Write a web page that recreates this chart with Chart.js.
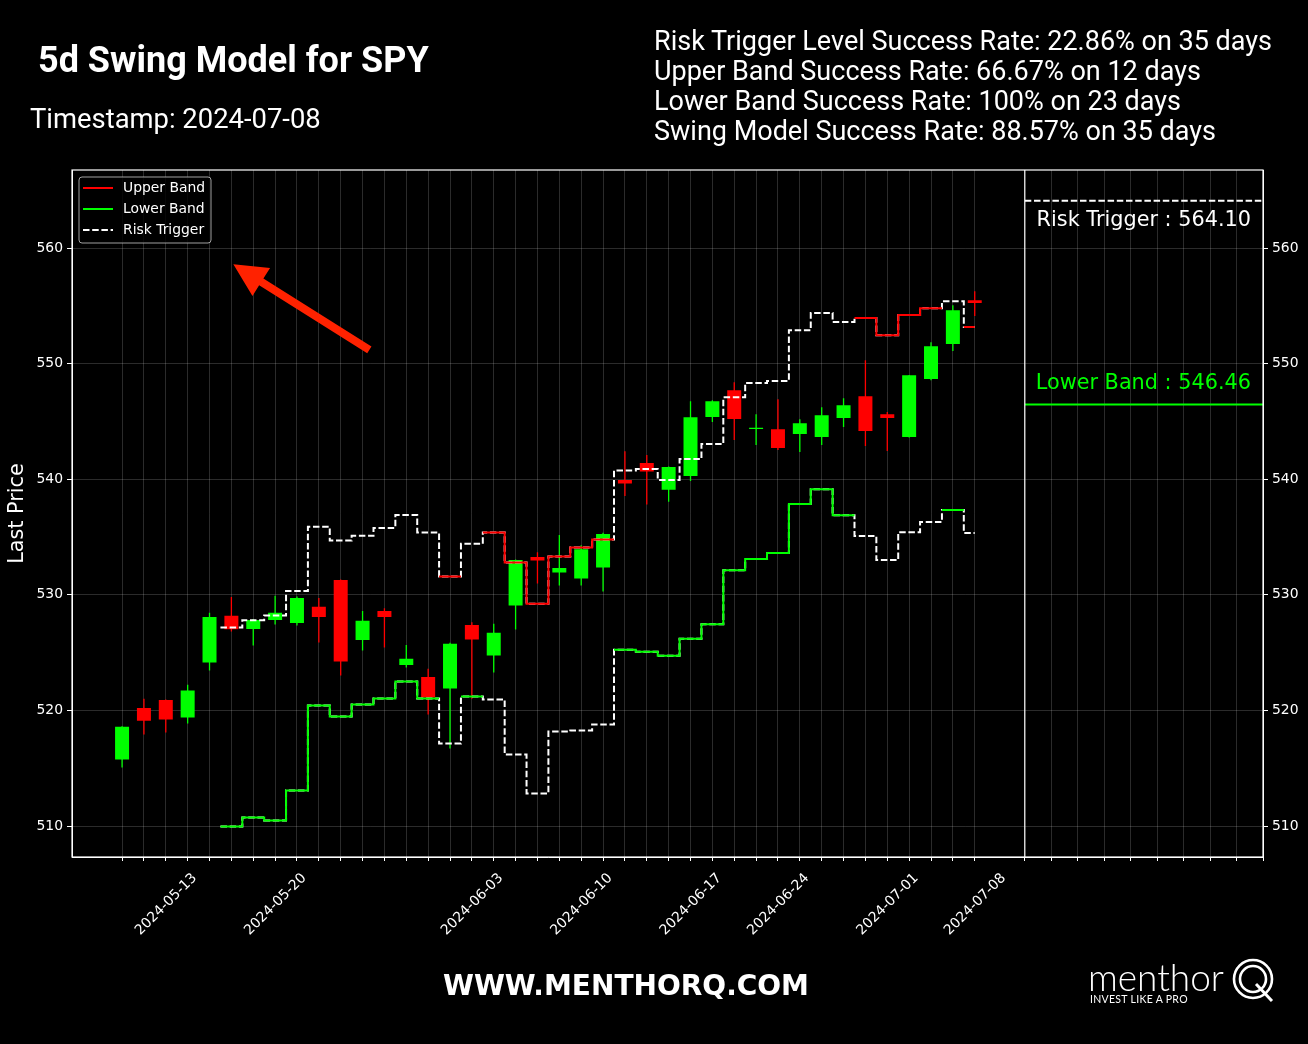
<!DOCTYPE html>
<html>
<head>
<meta charset="utf-8">
<title>5d Swing Model for SPY</title>
<script src="https://cdn.jsdelivr.net/npm/chart.js@4.4.1/dist/chart.umd.min.js"></script>
<style>
  body { margin: 0; background: #000; }
  #wrap { position: relative; width: 1308px; height: 1044px; background: #000; overflow: hidden; }
  #chart { position: absolute; left: 0; top: 0; }
  .txt { position: absolute; color: #fff; font-family: Roboto, sans-serif; white-space: nowrap; line-height: 1; }
  #title { left: 38px; top: 42px; font-size: 36px; font-weight: 700; }
  #stamp { left: 30px; top: 106px; font-size: 27.4px; }
  #stats { left: 654px; top: 26px; font-size: 27px; line-height: 30px; }
  #site { left: 0; width: 1252px; top: 971px; text-align: center; font: bold 28px 'DejaVu Sans'; line-height: 30px; }
  #brand { left: 1088px; top: 958px; font-family: Lato, sans-serif; font-weight: 300; font-size: 37px; }
  #tag { left: 1090px; top: 994px; font-family: Lato, sans-serif; font-size: 10.5px; letter-spacing: 0.3px; }
  #qmark { position: absolute; left: 1228px; top: 955px; }
</style>
</head>
<body>
<div id="wrap">
  <canvas id="chart" width="1308" height="1044"></canvas>
  <div class="txt" id="title">5d Swing Model for SPY</div>
  <div class="txt" id="stamp">Timestamp: 2024-07-08</div>
  <div class="txt" id="stats">
    Risk Trigger Level Success Rate: 22.86% on 35 days<br>
    Upper Band Success Rate: 66.67% on 12 days<br>
    Lower Band Success Rate: 100% on 23 days<br>
    Swing Model Success Rate: 88.57% on 35 days
  </div>
  <div class="txt" id="site">WWW.MENTHORQ.COM</div>
  <div class="txt" id="brand">menthor</div>
  <div class="txt" id="tag">INVEST LIKE A PRO</div>
  <svg id="qmark" width="52" height="50" viewBox="0 0 52 50">
    <circle cx="25" cy="24" r="19" fill="none" stroke="#fff" stroke-width="2.6"/>
    <circle cx="25" cy="24" r="13" fill="none" stroke="#fff" stroke-width="2.6"/>
    <line x1="28" y1="29" x2="44" y2="46" stroke="#fff" stroke-width="3"/>
  </svg>
</div>
<script>
// trading days on the x axis
const dates = [
  '2024-05-09', '2024-05-10', '2024-05-13', '2024-05-14', '2024-05-15', '2024-05-16', '2024-05-17',
  '2024-05-20', '2024-05-21', '2024-05-22', '2024-05-23', '2024-05-24',
  '2024-05-28', '2024-05-29', '2024-05-30', '2024-05-31',
  '2024-06-03', '2024-06-04', '2024-06-05', '2024-06-06', '2024-06-07',
  '2024-06-10', '2024-06-11', '2024-06-12', '2024-06-13', '2024-06-14',
  '2024-06-17', '2024-06-18', '2024-06-20', '2024-06-21',
  '2024-06-24', '2024-06-25', '2024-06-26', '2024-06-27', '2024-06-28',
  '2024-07-01', '2024-07-02', '2024-07-03', '2024-07-05', '2024-07-08'
];
const tickLabels = ['2024-05-13', '2024-05-20', '2024-06-03', '2024-06-10', '2024-06-17', '2024-06-24', '2024-07-01', '2024-07-08'];

const opens = [515.75, 520.22, 520.91, 519.38, 524.14, 528.18, 527.05, 527.83, 527.57, 528.96,
  531.29, 526.10, 528.61, 523.94, 522.90, 521.89, 527.40, 524.75, 529.07, 533.28,
  531.93, 531.41, 532.36, 539.94, 541.41, 539.09, 540.28, 545.39, 547.69, 544.35,
  544.32, 543.92, 543.66, 545.30, 547.17, 545.62, 543.66, 548.67, 551.70, 555.48];
const highs = [518.62, 521.00, 520.95, 522.21, 528.44, 529.82, 527.90, 529.91, 529.85, 529.73,
  531.32, 528.61, 528.84, 525.67, 523.60, 525.85, 527.63, 527.49, 533.05, 533.68,
  535.18, 534.29, 535.36, 542.42, 542.10, 541.10, 546.74, 546.83, 548.39, 545.62,
  546.91, 545.18, 546.22, 547.00, 550.29, 545.82, 549.02, 551.85, 555.05, 556.26];
const lows = [515.06, 517.91, 518.08, 518.86, 523.45, 526.82, 525.61, 527.43, 527.34, 525.87,
  523.02, 525.18, 525.44, 523.71, 519.64, 516.70, 521.00, 523.28, 527.00, 530.97,
  530.80, 530.80, 530.28, 538.55, 537.81, 538.05, 539.85, 544.95, 543.40, 542.96,
  542.53, 542.36, 542.96, 544.52, 542.88, 542.45, 543.60, 548.56, 551.10, 554.12];
const closes = [518.58, 519.10, 519.21, 521.72, 528.09, 527.02, 527.83, 528.44, 529.73, 528.09,
  524.23, 527.75, 528.09, 524.46, 521.11, 525.76, 526.13, 526.71, 533.02, 532.96,
  532.33, 533.94, 535.27, 539.63, 540.66, 541.05, 545.36, 546.74, 545.21, 544.45,
  542.70, 544.84, 545.53, 546.40, 544.18, 545.30, 548.99, 551.50, 554.61, 555.25];

// bands: null where that band is not the active one
const upperBand = [null, null, null, null, null, null, null, null, null, null,
  null, null, null, null, null, 531.58, null, 535.39, 532.79, 529.22,
  533.31, 534.09, 534.78, null, null, null, null, null, null, null,
  null, null, null, null, 553.95, 552.45, 554.21, 554.79, null, 553.17];
const lowerBand = [null, null, null, null, null, 509.95, 510.73, 510.47, 513.07, 520.42,
  519.47, 520.51, 521.03, 522.50, 521.03, null, 521.20, null, null, null,
  null, null, null, 525.24, 525.08, 524.74, 526.20, 527.45, 532.12, 533.10,
  533.62, 537.86, 539.13, 536.88, null, null, null, null, 537.34, null];
const riskTrigger = [null, null, null, null, null, 527.17, 527.80, 528.21, 530.34, 535.88,
  534.69, 535.10, 535.79, 536.91, 535.39, 517.13, 534.41, 520.94, 516.18, 512.81,
  518.17, 518.26, 518.78, 540.75, 540.89, 539.94, 541.75, 543.05, 547.09, 548.33,
  548.50, 552.88, 554.38, 553.60, 535.09, 533.02, 535.41, 536.30, 555.39, 535.35];

const nextRiskTrigger = 564.10;
const nextLowerBand = 546.46;

const RED = '#ff0000';
const GREEN = '#00ff00';
const GRID = 'rgba(255,255,255,0.17)';
const yMin = 507.32, yMax = 566.75;

// the risk trigger sits on whichever band is not active
const upperLine = upperBand.map((v, i) => v !== null ? v : (lowerBand[i] !== null ? riskTrigger[i] : null));
const lowerLine = lowerBand.map((v, i) => v !== null ? v : (upperBand[i] !== null ? riskTrigger[i] : null));

// mid steps, like matplotlib drawstyle steps-mid
function stepPoints(values) {
  const n = values.length;
  const pts = [];
  values.forEach((v, i) => {
    pts.push({x: i === 0 ? i : i - 0.5, y: v});
    pts.push({x: i === n - 1 ? i : i + 0.5, y: v});
  });
  return pts;
}

const candleColor = (ctx) => closes[ctx.dataIndex] >= opens[ctx.dataIndex] ? GREEN : RED;

const lineBase = { type: 'line', xAxisID: 'x', yAxisID: 'y', pointRadius: 0, borderWidth: 2, tension: 0, spanGaps: false, fill: false };
const DASH = [6.5, 2.7];

const datasets = [
  {
    type: 'bar', label: 'wick', xAxisID: 'x', yAxisID: 'y', order: 7, grouped: false,
    data: dates.map((d, i) => ({x: i, y: [lows[i], highs[i]]})),
    backgroundColor: candleColor, borderWidth: 0, maxBarThickness: 1.3
  },
  {
    type: 'bar', label: 'body', xAxisID: 'x', yAxisID: 'y', order: 6, grouped: false,
    data: dates.map((d, i) => ({x: i, y: [opens[i], closes[i]]})),
    backgroundColor: candleColor, borderWidth: 0, barPercentage: 0.8, categoryPercentage: 0.8
  },
  Object.assign({}, lineBase, { label: 'Risk Trigger', showInLegend: true, order: 5, data: stepPoints(upperLine), borderColor: '#fff', borderDash: DASH }),
  Object.assign({}, lineBase, { label: 'Risk Trigger (low)', order: 4, data: stepPoints(lowerLine), borderColor: '#fff', borderDash: DASH }),
  Object.assign({}, lineBase, { label: 'Upper Band', showInLegend: true, order: 3, data: stepPoints(upperBand), borderColor: RED }),
  Object.assign({}, lineBase, { label: 'Lower Band', showInLegend: true, order: 2, data: stepPoints(lowerBand), borderColor: GREEN }),
  Object.assign({}, lineBase, { label: 'next trigger', xAxisID: 'x2', order: 1, borderColor: '#fff', borderDash: DASH,
    data: [{x: 0, y: nextRiskTrigger}, {x: 9, y: nextRiskTrigger}] }),
  Object.assign({}, lineBase, { label: 'next lower', xAxisID: 'x2', order: 1, borderColor: GREEN,
    data: [{x: 0, y: nextLowerBand}, {x: 9, y: nextLowerBand}] })
];

const tickFont = { family: 'DejaVu Sans', size: 13.9 };

// frame, in-plot legend, arrow and level labels
const decorPlugin = {
  id: 'decor',
  afterDraw(chart) {
    const {ctx, chartArea: a, scales} = chart;
    ctx.save();
    ctx.strokeStyle = '#fff';
    ctx.lineWidth = 1.2;
    ctx.strokeRect(a.left, a.top, a.right - a.left, a.bottom - a.top);
    ctx.beginPath();
    ctx.moveTo(scales.x2.left, a.top);
    ctx.lineTo(scales.x2.left, a.bottom);
    ctx.stroke();

    // legend box
    const lx = a.left + 7, ly = a.top + 7, lw = 132, lh = 66;
    ctx.fillStyle = 'rgba(0,0,0,0.8)';
    ctx.strokeStyle = 'rgba(200,200,200,0.8)';
    ctx.lineWidth = 1;
    ctx.beginPath();
    ctx.roundRect(lx, ly, lw, lh, 3);
    ctx.fill();
    ctx.stroke();
    const order = ['Upper Band', 'Lower Band', 'Risk Trigger'];
    const items = order.map(n => chart.data.datasets.find(d => d.showInLegend && d.label === n));
    ctx.font = '13.9px "DejaVu Sans"';
    ctx.textBaseline = 'middle';
    items.forEach((d, k) => {
      const y = ly + 11 + k * 21;
      ctx.strokeStyle = d.borderColor;
      ctx.lineWidth = 2;
      ctx.setLineDash(d.borderDash || []);
      ctx.beginPath();
      ctx.moveTo(lx + 4, y);
      ctx.lineTo(lx + 34, y);
      ctx.stroke();
      ctx.setLineDash([]);
      ctx.fillStyle = '#fff';
      ctx.fillText(d.label, lx + 44, y + 0.5);
    });

    // arrow pointing up-left
    const x = scales.x, yS = scales.y;
    const tail = [x.getPixelForValue(11.31), yS.getPixelForValue(551.18)];
    const tip = [x.getPixelForValue(5.09), yS.getPixelForValue(558.59)];
    const dx = tip[0] - tail[0], dy = tip[1] - tail[1];
    const len = Math.hypot(dx, dy);
    const ux = dx / len, uy = dy / len, nx = -uy, ny = ux;
    const hl = 33, hw = 16.5, sw = 4;
    const bx = tip[0] - ux * hl, by = tip[1] - uy * hl;
    ctx.fillStyle = '#ff2200';
    ctx.beginPath();
    ctx.moveTo(tail[0] + nx * sw, tail[1] + ny * sw);
    ctx.lineTo(bx + nx * sw, by + ny * sw);
    ctx.lineTo(bx + nx * hw, by + ny * hw);
    ctx.lineTo(tip[0], tip[1]);
    ctx.lineTo(bx - nx * hw, by - ny * hw);
    ctx.lineTo(bx - nx * sw, by - ny * sw);
    ctx.lineTo(tail[0] - nx * sw, tail[1] - ny * sw);
    ctx.closePath();
    ctx.fill();

    // level labels in the right panel
    ctx.font = '20.8px "DejaVu Sans"';
    ctx.textAlign = 'right';
    ctx.textBaseline = 'middle';
    ctx.fillStyle = '#fff';
    ctx.fillText('Risk Trigger : ' + nextRiskTrigger.toFixed(2), scales.x2.right - 12, yS.getPixelForValue(nextRiskTrigger) + 20);
    ctx.fillStyle = GREEN;
    ctx.fillText('Lower Band : ' + nextLowerBand.toFixed(2), scales.x2.right - 12, yS.getPixelForValue(nextLowerBand) - 21);
    ctx.restore();
  }
};

new Chart(document.getElementById('chart'), {
  type: 'line',
  data: { datasets },
  plugins: [decorPlugin],
  options: {
    responsive: false,
    animation: false,
    devicePixelRatio: 1,
    events: [],
    layout: { padding: { left: 0, right: 0, top: 170, bottom: 87 } },
    plugins: { legend: { display: false }, tooltip: { enabled: false } },
    scales: {
      x: {
        type: 'linear', position: 'bottom', stack: 'xs', stackWeight: 4,
        min: -2.29, max: 41.29, offset: false,
        afterBuildTicks: (s) => { s.ticks = dates.map((d, i) => ({ value: i })); },
        ticks: {
          autoSkip: false, minRotation: 45, maxRotation: 45, color: '#fff', font: tickFont,
          labelOffset: 29, padding: 9,
          callback: (v) => tickLabels.includes(dates[v]) ? dates[v] : ''
        },
        grid: { color: GRID, tickColor: '#fff', tickLength: 4, offset: false },
        border: { color: '#fff' },
        afterFit: (s) => { s.height = 100; }
      },
      x2: {
        type: 'linear', position: 'bottom', stack: 'xs', stackWeight: 1,
        min: 0, max: 9, offset: false,
        ticks: { stepSize: 1, autoSkip: false, color: '#fff', font: tickFont, callback: () => '' },
        grid: { color: GRID, tickColor: '#fff', tickLength: 4, offset: false },
        border: { color: '#fff' },
        afterFit: (s) => { s.height = 100; }
      },
      y: {
        type: 'linear', position: 'left', min: yMin, max: yMax,
        ticks: { stepSize: 10, includeBounds: false, color: '#fff', font: tickFont, padding: 4 },
        grid: { color: GRID, tickColor: '#fff', tickLength: 5 },
        border: { color: '#fff' },
        title: { display: true, text: 'Last Price', color: '#fff', font: { family: 'DejaVu Sans', size: 20.8 }, padding: { top: 5 } },
        afterFit: (s) => { s.width = 72; }
      },
      y2: {
        type: 'linear', position: 'right', min: yMin, max: yMax,
        ticks: { stepSize: 10, includeBounds: false, color: '#fff', font: tickFont, padding: 4 },
        grid: { drawOnChartArea: false, tickColor: '#fff', tickLength: 5 },
        border: { color: '#fff' },
        afterFit: (s) => { s.width = 45; }
      }
    }
  }
});
</script>
</body>
</html>
